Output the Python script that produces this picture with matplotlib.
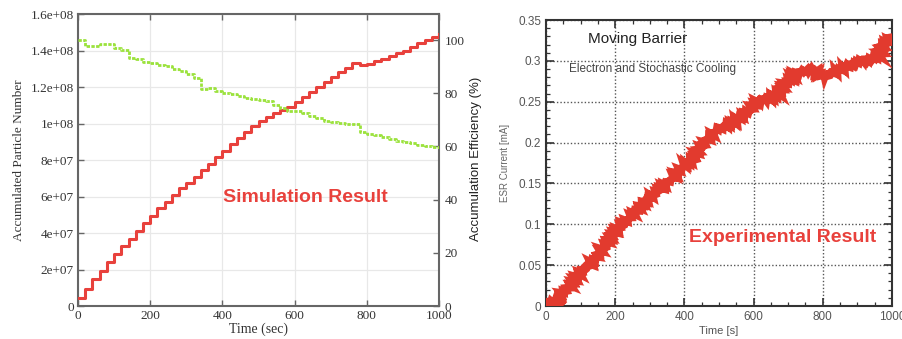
import numpy as np
import matplotlib
matplotlib.use("Agg")
import matplotlib.pyplot as plt
from matplotlib.ticker import MultipleLocator, FixedLocator

# --- simulation: accumulated particles (steps every 20 s) and efficiency ---
sim_time = np.arange(0, 1001, 20)
sim_particles = [
    4.5e6, 9.3e6, 1.46e7, 1.92e7, 2.39e7, 2.85e7, 3.31e7, 3.67e7, 4.11e7, 4.53e7,
    4.93e7, 5.35e7, 5.72e7, 6.08e7, 6.48e7, 6.76e7, 7.07e7, 7.45e7, 7.78e7, 8.18e7,
    8.51e7, 8.88e7, 9.19e7, 9.55e7, 9.88e7, 1.015e8, 1.037e8, 1.06e8, 1.075e8, 1.092e8,
    1.12e8, 1.147e8, 1.174e8, 1.202e8, 1.226e8, 1.253e8, 1.28e8, 1.306e8, 1.33e8, 1.32e8,
    1.325e8, 1.34e8, 1.355e8, 1.37e8, 1.385e8, 1.40e8, 1.42e8, 1.44e8, 1.457e8, 1.472e8,
    1.49e8,
]
sim_efficiency = [
    100.0, 97.6, 97.8, 98.6, 98.4, 97.2, 96.3, 93.1, 92.8, 91.8,
    91.2, 90.6, 90.2, 89.3, 88.4, 87.2, 85.8, 81.5, 81.9, 80.8,
    80.2, 79.6, 78.9, 78.4, 78.0, 77.4, 77.0, 75.6, 74.6, 73.5,
    73.2, 72.4, 71.4, 70.6, 69.6, 69.2, 68.8, 68.5, 68.3, 65.6,
    64.6, 64.2, 63.4, 62.9, 62.2, 61.7, 61.3, 60.7, 60.3, 59.7,
    59.4,
]

# --- experiment: ESR current ---
exp_time = [0, 20, 44, 46, 69, 89, 117, 146, 175, 199, 233, 262, 286, 315, 348,
            377, 397, 425, 445, 474, 493, 522, 560, 589, 608, 647, 676, 695, 724,
            753, 772, 801, 830, 868, 907, 945, 964, 974, 993]
exp_current = [0.004, 0.004, 0.004, 0.016, 0.024, 0.036, 0.048, 0.060, 0.077,
               0.091, 0.105, 0.117, 0.128, 0.138, 0.150, 0.162, 0.172, 0.179,
               0.193, 0.207, 0.215, 0.221, 0.230, 0.240, 0.250, 0.254, 0.260,
               0.274, 0.285, 0.289, 0.289, 0.281, 0.285, 0.293, 0.299, 0.303,
               0.307, 0.321, 0.327]

RED = "#e8413c"
GREEN = "#9be23c"
SERIF = ["Liberation Serif", "DejaVu Serif"]
SANS = ["Liberation Sans", "DejaVu Sans"]

fig = plt.figure(figsize=(9.03, 3.39), dpi=100)
fig.patch.set_facecolor("white")

# ---------------- left panel ----------------
ax1 = fig.add_axes([0.0864, 0.0973, 0.3999, 0.8614])
ax1.step(sim_time, sim_particles, where="post", color=RED, lw=2.2, zorder=3)
ax1.set_xlim(0, 1000)
ax1.set_ylim(0, 1.6e8)
ax1.xaxis.set_major_locator(MultipleLocator(200))
ax1.yaxis.set_major_locator(FixedLocator(np.arange(0, 1.61e8, 2e7)))
ax1.set_yticklabels(["0", "2e+07", "4e+07", "6e+07", "8e+07", "1e+08",
                     "1.2e+08", "1.4e+08", "1.6e+08"])
ax1.grid(True, color="#e8e8e8", lw=0.9)
ax1.set_axisbelow(True)
ax1.tick_params(direction="in", length=4, width=1, color="#666", top=True,
                labelsize=9.5, labelcolor="#333", pad=3)
for lab in ax1.get_xticklabels() + ax1.get_yticklabels():
    lab.set_family(SERIF)
for sp in ax1.spines.values():
    sp.set_color("#666")
    sp.set_linewidth(1.5)
ax1.set_xlabel("Time (sec)", family=SERIF, fontsize=10, color="#333", labelpad=0)
ax1.set_ylabel("Accumulated Particle Number", family=SERIF, fontsize=9.5,
               color="#333", labelpad=4)
ax1.text(630, 5.97e7, "Simulation Result", color=RED, fontsize=14,
         fontweight="bold", family=SANS, ha="center", va="center")

ax2 = ax1.twinx()
ax2.step(sim_time, sim_efficiency, where="post", color=GREEN, lw=2.0,
         linestyle=(0, (1.2, 0.5)), zorder=2)
ax2.set_ylim(0, 109.8)
ax2.yaxis.set_major_locator(MultipleLocator(20))
ax2.tick_params(direction="in", length=4, width=1, color="#666",
                labelsize=9.5, labelcolor="#333", pad=4)
for lab in ax2.get_yticklabels():
    lab.set_family(SERIF)
# the zero label sits just above the corner
ax2.get_yticklabels()[0].set_verticalalignment("bottom")
for sp in ax2.spines.values():
    sp.set_visible(False)
fig.text(0.527, 0.53, "Accumulation Efficiency (%)", rotation=90,
         family=SANS, fontsize=9.5, color="#222", ha="center", va="center")

# ---------------- right panel ----------------
ax3 = fig.add_axes([0.6047, 0.0973, 0.3831, 0.8437])
ln, = ax3.plot(exp_time, exp_current, color="#e23a2e", lw=5.5,
               solid_joinstyle="miter", zorder=3)
ln.set_sketch_params(scale=1.6, length=2.5, randomness=2)
ax3.set_xlim(0, 1000)
ax3.set_ylim(0, 0.35)
ax3.xaxis.set_major_locator(MultipleLocator(200))
ax3.xaxis.set_minor_locator(MultipleLocator(50))
ax3.yaxis.set_major_locator(MultipleLocator(0.05))
ax3.yaxis.set_minor_locator(MultipleLocator(0.01))
ax3.set_yticklabels([f"{v:g}" for v in ax3.get_yticks()])
ax3.grid(True, which="major", color="#555", lw=1.0, linestyle=(0, (1, 1.5)))
ax3.tick_params(which="both", direction="in", top=True, right=True,
                color="#333", labelsize=8.5, labelcolor="#555")
ax3.tick_params(which="major", length=6, width=1.2)
ax3.tick_params(which="minor", length=3, width=0.9)
for lab in ax3.get_xticklabels() + ax3.get_yticklabels():
    lab.set_family(SANS)
for sp in ax3.spines.values():
    sp.set_color("#333")
    sp.set_linewidth(1.5)
ax3.set_xlabel("Time [s]", family=SANS, fontsize=8, color="#555", labelpad=2)
ax3.set_ylabel("ESR Current [mA]", family=SANS, fontsize=7, color="#666",
               labelpad=6)
ax3.text(0.12, 0.935, "Moving Barrier", transform=ax3.transAxes,
         family=SANS, fontsize=11, color="#222", va="center")
ax3.text(0.065, 0.83, "Electron and Stochastic Cooling", transform=ax3.transAxes,
         family=SANS, fontsize=8.5, color="#444", va="center")
ax3.text(0.685, 0.24, "Experimental Result", transform=ax3.transAxes,
         family=SANS, fontsize=14, fontweight="bold", color=RED,
         ha="center", va="center")

fig.savefig("out.png", dpi=100, facecolor="white")
